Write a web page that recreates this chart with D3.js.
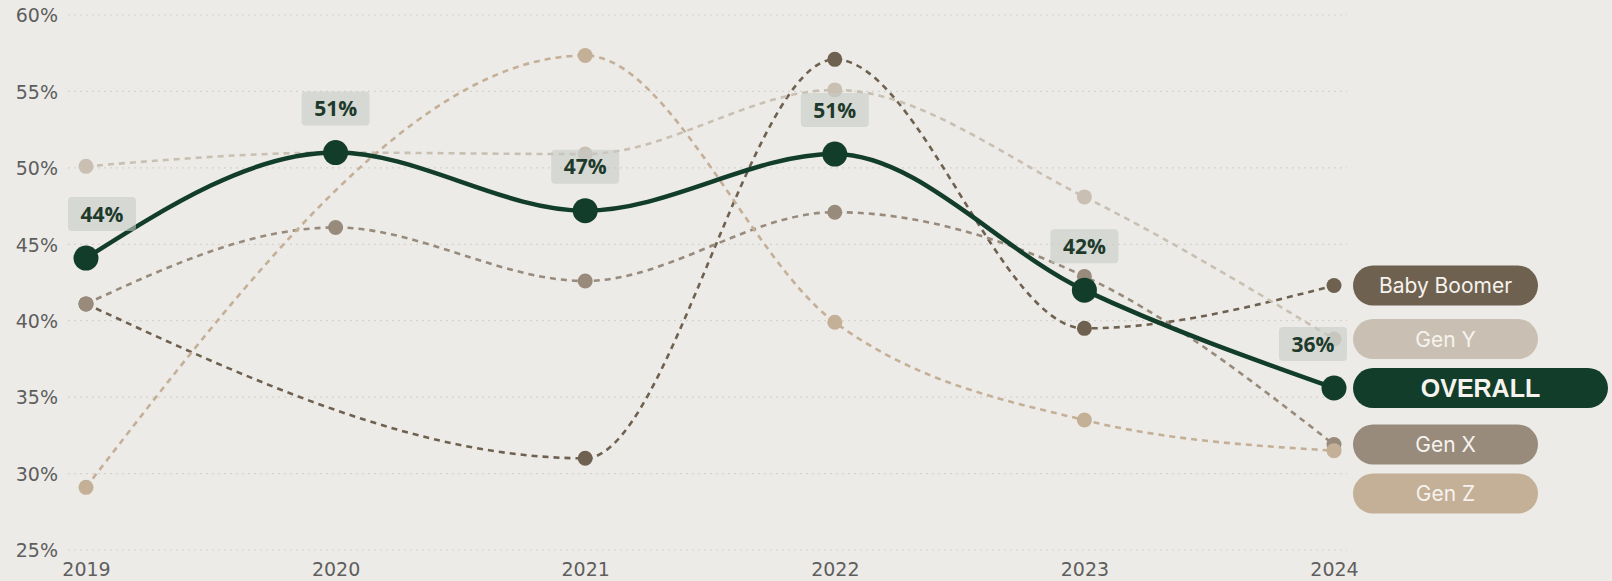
<!DOCTYPE html>
<html>
<head>
<meta charset="utf-8">
<script src="https://cdn.jsdelivr.net/npm/d3@7"></script>
<style>
  html, body { margin: 0; padding: 0; background: #edebe7; }
  svg { display: block; }
</style>
</head>
<body>
<svg id="chart" width="1612" height="581"></svg>
<script>
// data (null = no point that year)
const years = ['2019', '2020', '2021', '2022', '2023', '2024'];
const yTicks = [25, 30, 35, 40, 45, 50, 55, 60];

const overall = [44.1, 51.0, 47.2, 50.9, 42.0, 35.6];
const overallLabels = ['44%', '51%', '47%', '51%', '42%', '36%'];

const babyBoomer = [41.1, null, 31.0, 57.1, 39.5, 42.3];
const genY = [50.1, 51.0, 50.9, 55.1, 48.1, 38.8];
const genX = [41.1, 46.1, 42.6, 47.1, 42.9, 31.9];
const genZ = [29.1, null, 57.35, 39.9, 33.5, 31.5];

const seriesNames = ['Baby Boomer', 'Gen Y', 'Gen X', 'Gen Z'];
const seriesValues = [babyBoomer, genY, genX, genZ];
const seriesColors = ['#6f6150', '#c9c0b3', '#988b7c', '#c4af97'];

const GREEN = '#123d2b';
const PLOT_LEFT = 68, PLOT_RIGHT = 1347;

const svg = d3.select('#chart');

const x = d3.scalePoint().domain(years).range([86, 1334]);
const y = d3.scaleLinear().domain([25, 60]).range([550, 15]);

// grid
svg.append('g')
    .selectAll('line')
    .data(yTicks)
    .enter().append('line')
    .attr('x1', PLOT_LEFT)
    .attr('x2', PLOT_RIGHT)
    .attr('y1', d => y(d))
    .attr('y2', d => y(d))
    .attr('stroke', '#d6d3cd')
    .attr('stroke-width', 1.2)
    .attr('stroke-dasharray', '2,4');

// axes
const yAxis = svg.append('g')
    .attr('transform', 'translate(58,0)')
    .call(d3.axisLeft(y).tickValues(yTicks).tickFormat(d => d + '%').tickSize(0).tickPadding(0));
yAxis.select('.domain').remove();
yAxis.selectAll('text')
    .attr('font-family', 'DejaVu Sans')
    .attr('font-size', 19)
    .attr('fill', '#5e5e5e')
    .attr('dy', '0.36em');

const xAxis = svg.append('g')
    .attr('transform', 'translate(0,558)')
    .call(d3.axisBottom(x).tickSize(0).tickPadding(0));
xAxis.select('.domain').remove();
xAxis.selectAll('text')
    .attr('font-family', 'DejaVu Sans')
    .attr('font-size', 19)
    .attr('fill', '#5e5e5e')
    .attr('dy', '0.95em');

const line = d3.line()
    .x(d => x(d.year))
    .y(d => y(d.value))
    .curve(d3.curveMonotoneX);

function points(values) {
    return years.map((yr, i) => ({ year: yr, value: values[i] })).filter(d => d.value != null);
}

// generation lines
seriesValues.forEach((vals, i) => {
    svg.append('path')
        .datum(points(vals))
        .attr('d', line)
        .attr('fill', 'none')
        .attr('stroke', seriesColors[i])
        .attr('stroke-width', 2.6)
        .attr('stroke-dasharray', '6,5');
});
seriesValues.forEach((vals, i) => {
    svg.append('g')
        .selectAll('circle')
        .data(points(vals))
        .enter().append('circle')
        .attr('cx', d => x(d.year))
        .attr('cy', d => y(d.value))
        .attr('r', 7.5)
        .attr('fill', seriesColors[i]);
});

// overall line
svg.append('path')
    .datum(points(overall))
    .attr('d', line)
    .attr('fill', 'none')
    .attr('stroke', GREEN)
    .attr('stroke-width', 4.5);
svg.append('g')
    .selectAll('circle')
    .data(points(overall))
    .enter().append('circle')
    .attr('cx', d => x(d.year))
    .attr('cy', d => y(d.value))
    .attr('r', 12.5)
    .attr('fill', GREEN);

// value labels, kept inside the plot area
const BOX_W = 68;
const lab = svg.append('g')
    .selectAll('g')
    .data(points(overall).map((d, i) => ({ ...d, text: overallLabels[i] })))
    .enter().append('g')
    .attr('transform', d => {
        const cx = Math.max(PLOT_LEFT + BOX_W / 2, Math.min(PLOT_RIGHT - BOX_W / 2, x(d.year)));
        return 'translate(' + cx + ',' + (y(d.value) - 44) + ')';
    });
lab.append('rect')
    .attr('x', -BOX_W / 2)
    .attr('y', -17)
    .attr('width', BOX_W)
    .attr('height', 34)
    .attr('rx', 4)
    .attr('fill', 'rgba(198,204,198,0.6)');
lab.append('text')
    .attr('text-anchor', 'middle')
    .attr('dy', '0.36em')
    .attr('font-family', 'Open Sans')
    .attr('font-weight', 700)
    .attr('font-size', 21)
    .attr('fill', '#1d3a2b')
    .text(d => d.text);

// legend pills next to the 2024 values, pushed down where they would overlap
const legendItems = seriesNames.map((name, i) => ({
    name: name,
    color: seriesColors[i],
    target: y(seriesValues[i][5]),
    main: false
}));
legendItems.push({ name: 'OVERALL', color: GREEN, target: y(overall[5]), main: true });
legendItems.sort((a, b) => a.target - b.target);
const GAP = 49;
legendItems.forEach((d, i) => {
    d.cy = i === 0 ? d.target : Math.max(d.target, legendItems[i - 1].cy + GAP);
});

const pill = svg.append('g')
    .selectAll('g')
    .data(legendItems)
    .enter().append('g')
    .attr('transform', d => 'translate(1353,' + d.cy + ')');
pill.append('rect')
    .attr('x', 0)
    .attr('y', -20)
    .attr('width', d => d.main ? 255 : 185)
    .attr('height', 40)
    .attr('rx', 20)
    .attr('fill', d => d.color);
pill.append('text')
    .attr('x', d => d.main ? 127.5 : 92.5)
    .attr('dy', '0.36em')
    .attr('text-anchor', 'middle')
    .attr('font-family', d => d.main ? 'Liberation Sans' : 'Inter')
    .attr('font-weight', d => d.main ? 700 : 400)
    .attr('font-size', d => d.main ? 25 : 21)
    .attr('fill', '#f6f3ee')
    .text(d => d.name);
</script>
</body>
</html>
